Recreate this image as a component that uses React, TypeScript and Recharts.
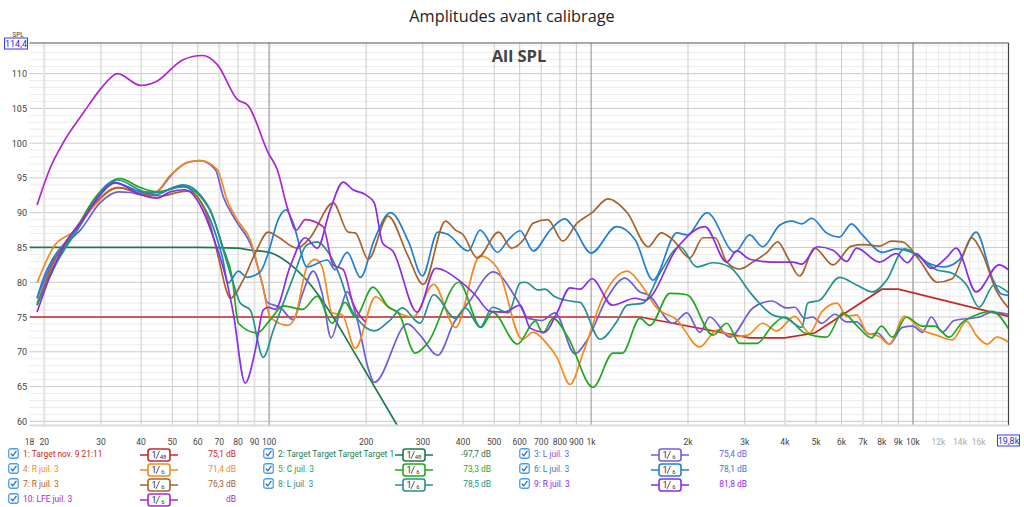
import React from "react";
import { LineChart, Line, XAxis, YAxis, ReferenceLine } from "recharts";

const target1Hz = [18, 1420, 3110, 4000, 4950, 8000, 9000, 19800];
const target1Db = [75, 75, 72, 72, 72.7, 79, 79, 75.1];

const target2Hz = [18, 60, 79, 88, 100, 116, 134, 158, 178, 250];
const target2Db = [85, 85, 84.9, 84.6, 84.3, 82.6, 79.7, 75, 71, 59.4];

const lHz3 = [19, 21.4, 24.1, 25.9, 29.8, 34, 37, 39.8, 44.3, 50.3, 55.5, 61, 68, 72, 78.4, 88.5, 95, 98.6, 108, 118.7, 127, 137, 146, 155.7, 166.3, 174.6, 187.6, 204, 212, 269, 294, 334, 374, 421, 497, 590, 638, 703, 772, 891, 972, 1120, 1275, 1418, 1505, 1795, 1985, 2176, 2337, 2696, 3180, 3640, 4050, 4290, 4610, 4875, 5200, 5720, 6220, 6680, 7323, 7750, 8446, 9270, 10000, 10690, 11400, 12330, 13430, 16056, 17600, 19800];
const lDb3 = [77.7, 83.2, 86.1, 87.5, 91.4, 93, 92.9, 92.6, 92.9, 95.7, 97.2, 97.5, 96.2, 92.3, 89, 84.9, 79.9, 77.1, 76.4, 74.6, 78.4, 81.6, 78.4, 72, 76, 78.6, 74.6, 67.3, 65.6, 74, 72.4, 69.5, 74.1, 77.4, 81.5, 77.4, 74.8, 74.5, 75.6, 69.7, 71.7, 77.7, 80.6, 78.6, 78.2, 74.1, 75.6, 72.8, 75, 72.1, 76.3, 77.3, 76.3, 76.4, 74.8, 75, 74.1, 75.4, 74.3, 74.3, 72.5, 72.7, 71.1, 73.5, 73.7, 72.8, 75, 72.8, 74.5, 75, 75.7, 75.4];

const rHz4 = [19, 21.4, 25, 28.4, 34, 39.8, 44.3, 49.3, 55.5, 61, 69, 74, 79.5, 87.3, 95, 100.7, 114.5, 120.4, 131, 139, 146, 156.8, 168.5, 185, 214, 235, 280, 324, 379, 452, 512, 611, 661, 728, 783, 860, 944, 1090, 1295, 1418, 1600, 1846, 2176, 2460, 2795, 3065, 3410, 3770, 4290, 4772, 5200, 5810, 6220, 6680, 7210, 7864, 8446, 9400, 10690, 11820, 13240, 14670, 15710, 17000, 18230, 19800];
const rDb4 = [79.9, 85.1, 87.5, 90.8, 93.6, 92.9, 93, 95.4, 97.2, 97.5, 96.2, 91.8, 89, 86.1, 79.9, 75, 73.8, 75, 82.2, 83.3, 82.2, 75.6, 75.3, 70.5, 77.9, 76.4, 75, 79.7, 73.5, 83.8, 82, 71.8, 72.8, 71.2, 69.2, 65.3, 69.8, 77.9, 81.6, 79.9, 76.3, 74.6, 70.7, 73.1, 72.2, 72.4, 74.1, 73, 75.1, 72.7, 75.7, 77, 75.1, 75.3, 72.7, 72.2, 71.1, 75.1, 73.1, 72.4, 71.7, 74.4, 72.4, 71.1, 72.1, 71.4];

const cHz5 = [19, 21.7, 25.5, 28.4, 34.4, 39.8, 44.9, 54, 64.6, 72, 76.7, 80.2, 91.8, 100.7, 110.5, 127, 141, 156.8, 172, 185, 210, 235, 252, 284, 310, 388, 455, 494, 590, 671, 708, 762, 847, 1014, 1170, 1250, 1418, 1523, 1757, 1985, 2390, 2640, 2895, 3270, 3665, 3990, 4610, 5390, 6050, 6680, 7430, 7980, 8630, 9540, 10690, 11650, 12961, 14130, 15710, 17600, 19800];
const cDb5 = [77, 82.8, 88.2, 91.8, 94.9, 93.6, 93, 93.7, 90.8, 84.9, 80.7, 74.1, 72.7, 74.6, 76.6, 76.1, 78, 74.1, 77.1, 75, 79.3, 76.4, 75.6, 69.8, 71.2, 80, 73.5, 75.7, 71.1, 74.4, 72.7, 74.8, 72.1, 64.9, 69.8, 69.8, 74.8, 73.8, 78.4, 78.2, 72.4, 74.1, 71.2, 71.2, 73.8, 75, 72.7, 72.1, 75.6, 73.8, 72, 73.7, 72.1, 75, 73.7, 73.7, 72.1, 74.1, 75.3, 75.8, 73.3];

const lHz6 = [19, 19.9, 21.4, 23.6, 25.9, 28.4, 32.6, 39.8, 44.3, 50.3, 54, 59.7, 65.6, 71.5, 74.6, 80.2, 85.4, 93.8, 99.3, 106.6, 112.9, 118.7, 131, 151.5, 160.3, 174.6, 192, 212, 238, 271, 299, 334, 358, 415, 452, 512, 553, 602, 661, 746, 829, 878, 1000, 1200, 1370, 1557, 1846, 1985, 2290, 2795, 3110, 3410, 3852, 4200, 4510, 4840, 5390, 5911, 6440, 6960, 8040, 8870, 10000, 11237, 12500, 13920, 15710, 17600, 18790, 19800];
const lDb6 = [77.7, 80.6, 83.6, 86.1, 88.5, 91.4, 94.4, 93, 92.6, 93.6, 93.9, 92.3, 89, 83.6, 79.9, 81.6, 80.7, 81.5, 84.2, 89, 90.4, 88.5, 82.2, 83.2, 81.8, 84.3, 80.7, 86.1, 90, 85.8, 80.9, 87.2, 86.9, 84.5, 87.5, 84.3, 86.1, 87.4, 84.5, 87.5, 89.1, 88, 84.2, 88, 86.1, 80.3, 87.1, 86.8, 90, 84.3, 86.8, 85.1, 88.2, 88.8, 88.4, 89.2, 87.1, 86.5, 88.4, 86.8, 84.3, 84.8, 84.2, 82.7, 82.2, 83.2, 87.2, 80.7, 78.3, 78.1];

const rHz7 = [19, 21.4, 23.6, 25.9, 28.4, 34, 39.8, 45.9, 52.9, 55.5, 59.7, 65.6, 70.4, 73.5, 75.7, 83, 90.5, 99.3, 106.6, 122, 134, 158, 176, 185, 203, 234, 269, 301, 353, 379, 399, 443, 516, 566, 616, 661, 733, 817, 904, 1007, 1128, 1295, 1505, 1650, 1795, 2026, 2225, 2425, 2640, 2895, 3180, 3520, 3800, 4075, 4443, 4950, 5640, 6440, 7060, 7864, 8570, 9270, 10463, 11900, 13240, 14130, 15170, 16400, 18100, 19800];
const rDb7 = [76.7, 82.9, 86.1, 88.7, 91.1, 93.6, 92.7, 92.4, 93, 93.1, 92.3, 88.2, 82.5, 78.9, 77.7, 80.3, 84.2, 87.2, 86.5, 84.9, 86.4, 91.4, 87.2, 87.1, 83.3, 89.5, 83.9, 79.7, 88.8, 87.5, 86.9, 83.5, 87.2, 84.9, 86.1, 88.5, 89, 85.9, 88.5, 90, 92, 90, 85.1, 87.1, 86.1, 83.5, 86.4, 86.4, 82.9, 81.9, 82.9, 84.3, 85.8, 83.6, 80.9, 84.9, 82.5, 85.2, 85.4, 85.2, 85.9, 85.8, 83.2, 80, 80.5, 83.2, 86.4, 84.2, 78.9, 76.3];

const lHz8 = [19, 21.7, 25.9, 28.9, 33.8, 41.2, 44.9, 54, 65.6, 72, 77.3, 81.3, 87.3, 95.8, 103, 118.7, 131, 141, 152.5, 166.3, 178.5, 189, 212, 238, 259, 294, 324, 379, 407, 452, 494, 553, 602, 625, 685, 718, 772, 860, 924, 1066, 1200, 1295, 1450, 1636, 1887, 2130, 2390, 2696, 3110, 3270, 3665, 4050, 4510, 4710, 5125, 5911, 6680, 7480, 8280, 9400, 10310, 11820, 13240, 14670, 16056, 17850, 19800];
const lDb8 = [76.7, 82.5, 88.2, 91.8, 94.7, 93, 92.9, 94, 90.4, 84.6, 79.9, 77, 76, 69.2, 73.1, 80.7, 85.4, 85.8, 84.3, 80.7, 76.4, 74.6, 73, 74.6, 76.3, 74.1, 78.2, 74.8, 76.3, 73.5, 76.4, 75.6, 79.9, 80, 78.9, 79, 77.9, 77.3, 77.1, 71.8, 74.3, 76.7, 77, 81.3, 85.1, 82.2, 82.8, 82.2, 78.6, 77.4, 75.3, 74.8, 73.5, 77, 77.4, 80.7, 79.6, 78.6, 80.3, 84.8, 83.9, 81.8, 81.3, 79.6, 76.4, 79.6, 78.5];

const rHz9 = [19, 20.9, 23.6, 25.9, 29.3, 33.2, 39.8, 44.9, 49.3, 54.7, 61, 67, 74, 77.3, 84.2, 90.5, 95.8, 99.3, 104.4, 116, 129.4, 141, 154.6, 169.8, 182, 199, 212, 225, 242, 288, 329, 388, 436, 486, 537, 602, 647, 718, 783, 860, 924, 1007, 1162, 1370, 1470, 1860, 2255, 2640, 2835, 3110, 3665, 4230, 4510, 5050, 5640, 6220, 6680, 7864, 8870, 9610, 10240, 11400, 12680, 13620, 15710, 18520, 19800];
const rDb9 = [75.7, 81, 86.1, 88.5, 92.1, 94.3, 92.6, 92.1, 93, 93.3, 91.1, 86.5, 79.9, 75.6, 65.5, 70.2, 76, 76.4, 76.1, 82.2, 86.4, 84.9, 90.4, 94.4, 93.3, 92.6, 91.4, 85.6, 84.5, 75.7, 82, 80.3, 78.2, 75.8, 75.7, 76.7, 73.4, 72.8, 75.6, 79.2, 79, 80.5, 76.7, 77.7, 77.4, 85.1, 88, 82.9, 84.5, 83.3, 82.9, 82.9, 82.6, 85.1, 84.6, 83, 84.9, 82.9, 84.1, 82.8, 84.1, 82, 83.5, 84.9, 78.6, 82.5, 81.8];

const lfeHz10 = [19, 20.9, 23, 26.5, 30.3, 33.8, 39.8, 44.3, 54, 62, 69, 79.5, 86, 99.3, 105.9, 113.7, 121.3, 129.4, 147, 158, 169.8, 182, 199];
const lfeDb10 = [91.1, 96.5, 100.2, 104.4, 108.1, 110, 108.3, 108.8, 112, 112.6, 111.3, 106.3, 105.4, 98.6, 96.2, 90.8, 87.5, 89, 88, 82.5, 81.8, 77, 74.3];

const seriesNames = ["1: Target nov. 9 21:11", "2: Target Target Target Target 1", "3: L juil. 3", "4: R juil. 3", "5: C juil. 3", "6: L juil. 3", "7: R juil. 3", "8: L juil. 3", "9: R juil. 3", "10: LFE juil. 3"];
const seriesColors = ["#c62828", "#1e7a4c", "#6b5fd8", "#f28a1e", "#1fa81f", "#1f7fd6", "#a8622a", "#25918f", "#8a2be8", "#b025cc"];
const smoothing = ["48", "48", "6", "6", "6", "6", "6", "6", "6", "6"];
const cursorValues = ["75,1 dB", "-97,7 dB", "75,4 dB", "71,4 dB", "73,3 dB", "78,1 dB", "76,3 dB", "78,5 dB", "81,8 dB", "dB"];

const xTicks = [18, 20, 30, 40, 50, 60, 70, 80, 90, 100, 200, 300, 400, 500, 600, 700, 800, 900, 1000, 2000, 3000, 4000, 5000, 6000, 7000, 8000, 9000, 10000, 12000, 14000, 16000, 19800];
const yTicks = [60, 65, 70, 75, 80, 85, 90, 95, 100, 105, 110, 114.4];
const softX = [20, 70, 90, 4000, 7000];
const plainX = [30, 40, 50, 60, 80, 200, 300, 400, 500, 600, 700, 800, 900, 2000, 3000, 5000, 6000, 8000, 9000];
const faintX = [11000, 12000, 13000, 14000, 15000, 16000, 17000, 18000, 19000];
const minorY = [60, 61, 62, 63, 64, 66, 67, 68, 69, 71, 72, 73, 74, 76, 77, 78, 79, 81, 82, 83, 84, 86, 87, 88, 89, 91, 92, 93, 94, 96, 97, 98, 99, 101, 102, 103, 104, 106, 107, 108, 109, 111, 112, 113, 114];
const majorY = [60, 65, 70, 75, 80, 85, 90, 95, 100, 105, 110];

const font = "Roboto, sans-serif";
const titleFont = "'Open Sans', sans-serif";

function toPoints(hz: number[], db: number[]) {
  return hz.map((f, i) => ({ f, v: db[i] }));
}

const allSeries = [
  toPoints(target1Hz, target1Db),
  toPoints(target2Hz, target2Db),
  toPoints(lHz3, lDb3),
  toPoints(rHz4, rDb4),
  toPoints(cHz5, cDb5),
  toPoints(lHz6, lDb6),
  toPoints(rHz7, rDb7),
  toPoints(lHz8, lDb8),
  toPoints(rHz9, rDb9),
  toPoints(lfeHz10, lfeDb10),
];

function hzLabel(f: number) {
  if (f === 19800) return "19,8k";
  return f >= 1000 ? f / 1000 + "k" : String(f);
}

function XTick({ x, y, payload }: any) {
  const f = payload.value;
  if (f === 19800) {
    return (
      <g>
        <rect x={x - 11} y={y + 1.5} width={22} height={11} fill="#fff" stroke="#3a3af0" strokeWidth={1} />
        <text x={x} y={y + 10.5} textAnchor="middle" fontSize={9} fontFamily={font} fill="#2a2ae0">{hzLabel(f)}</text>
      </g>
    );
  }
  return (
    <text x={x} y={y + 11.5} textAnchor="middle" fontSize={8.5} fontFamily={font} fill={f > 10000 ? "#aaa" : "#444"}>
      {hzLabel(f)}
    </text>
  );
}

function YTick({ x, y, payload }: any) {
  const v = payload.value;
  if (v === 114.4) {
    return (
      <g>
        <text x={18} y={y - 6.5} textAnchor="middle" fontSize={6.5} fontFamily={font} fill="#444">SPL</text>
        <rect x={4.5} y={y - 5} width={23} height={11} fill="#fff" stroke="#3a3af0" strokeWidth={1} />
        <text x={16} y={y + 4} textAnchor="middle" fontSize={9} fontFamily={font} fill="#2a2ae0">114,4</text>
      </g>
    );
  }
  return (
    <text x={27} y={y + 3.5} textAnchor="end" fontSize={9} fontFamily={font} fill="#444">{v}</text>
  );
}

function CheckBox() {
  return (
    <svg width={11} height={11} style={{ position: "absolute", left: 0, top: 0 }}>
      <rect x={0.75} y={0.75} width={9.5} height={9.5} rx={2} fill="#fff" stroke="#4a9fe8" strokeWidth={1.3} />
      <path d="M2.8 5.6 L4.8 7.8 L8.4 2.8" fill="none" stroke="#1c6fc8" strokeWidth={1.3} />
    </svg>
  );
}

function SmoothBadge({ color, den }: { color: string; den: string }) {
  return (
    <svg width={38} height={14} style={{ position: "absolute", left: 0, top: 0 }}>
      <line x1={0} y1={7} x2={38} y2={7} stroke={color} strokeWidth={1.5} />
      <rect x={8} y={1} width={22} height={12} rx={2.5} fill="#fff" stroke={color} strokeWidth={1.6} />
      <text x={14} y={10} fontSize={9} fontFamily={font} fill="#333" textAnchor="middle">1</text>
      <line x1={16} y1={11} x2={19.5} y2={3} stroke="#333" strokeWidth={0.8} />
      <text x={23} y={11} fontSize={6} fontFamily={font} fill="#333" textAnchor="middle">{den}</text>
    </svg>
  );
}

const colLeft = [8, 263, 519];
const rowTop = [448, 463, 478, 493];

function LegendRow({ i }: { i: number }) {
  const col = i === 9 ? 0 : i % 3;
  const row = i === 9 ? 3 : Math.floor(i / 3);
  const left = colLeft[col];
  const color = seriesColors[i];
  return (
    <div style={{ position: "absolute", left, top: rowTop[row], width: 240, height: 14, fontFamily: font, fontSize: 8.4, lineHeight: "13px", color }}>
      <CheckBox />
      <div style={{ position: "absolute", left: 15, top: 0, whiteSpace: "nowrap" }}>{seriesNames[i]}</div>
      <div style={{ position: "absolute", left: 132, top: 0, width: 38, height: 14 }}>
        <SmoothBadge color={color} den={smoothing[i]} />
      </div>
      <div style={{ position: "absolute", right: 12, top: 0, whiteSpace: "nowrap" }}>{cursorValues[i]}</div>
    </div>
  );
}

export default function App() {
  return (
    <div style={{ position: "absolute", left: 0, top: 0, width: 1024, height: 507, background: "#fff", overflow: "hidden" }}>
      <div style={{ position: "absolute", left: 0, right: 0, top: 5, textAlign: "center", fontFamily: titleFont, fontSize: 16.3, color: "#222" }}>
        Amplitudes avant calibrage
      </div>
      <LineChart width={1024} height={507} margin={{ top: 43, right: 15.5, bottom: 0, left: 0 }}>
        <XAxis
          xAxisId={0}
          dataKey="f"
          type="number"
          scale="log"
          domain={[18, 19800]}
          ticks={xTicks}
          interval={0}
          allowDataOverflow
          height={81.5}
          tickLine={false}
          axisLine={{ stroke: "#dcdcdc", strokeWidth: 2 }}
          tick={<XTick />}
        />
        <YAxis
          yAxisId={0}
          type="number"
          domain={[59.4, 114.4]}
          ticks={yTicks}
          interval={0}
          allowDataOverflow
          width={29.5}
          tickLine={false}
          axisLine={false}
          tick={<YTick />}
        />
        {minorY.map((v) => (
          <ReferenceLine key={"my" + v} y={v} stroke="#ececec" strokeWidth={1} />
        ))}
        {faintX.map((v) => (
          <ReferenceLine key={"fx" + v} x={v} stroke="#ececec" strokeWidth={1} />
        ))}
        {majorY.map((v) => (
          <ReferenceLine key={"My" + v} y={v} stroke="#cbcbcb" strokeWidth={1} />
        ))}
        {softX.map((v) => (
          <ReferenceLine key={"sx" + v} x={v} stroke="#e2e2e2" strokeWidth={2} />
        ))}
        {plainX.map((v) => (
          <ReferenceLine key={"px" + v} x={v} stroke="#cbcbcb" strokeWidth={1} />
        ))}
        <ReferenceLine x={100} stroke="#bdbdbd" strokeWidth={2} />
        <ReferenceLine x={1000} stroke="#8f8f8f" strokeWidth={1} />
        <ReferenceLine x={10000} stroke="#a8a8a8" strokeWidth={1.5} />
        <ReferenceLine y={114.4} stroke="#555" strokeWidth={1.2} />
        <ReferenceLine x={19800} stroke="#444" strokeWidth={1.2} />
        {allSeries.map((points, i) => (
          <Line
            key={seriesNames[i]}
            data={points}
            dataKey="v"
            name={seriesNames[i]}
            type={i === 0 ? "linear" : "monotone"}
            stroke={seriesColors[i]}
            strokeWidth={1.7}
            dot={false}
            activeDot={false}
            isAnimationActive={false}
          />
        ))}
      </LineChart>
      <div style={{ position: "absolute", left: 419, width: 200, top: 44, textAlign: "center", fontFamily: titleFont, fontSize: 16.5, fontWeight: 700, color: "#444" }}>
        All SPL
      </div>
      {seriesNames.map((_, i) => (
        <LegendRow key={i} i={i} />
      ))}
    </div>
  );
}
